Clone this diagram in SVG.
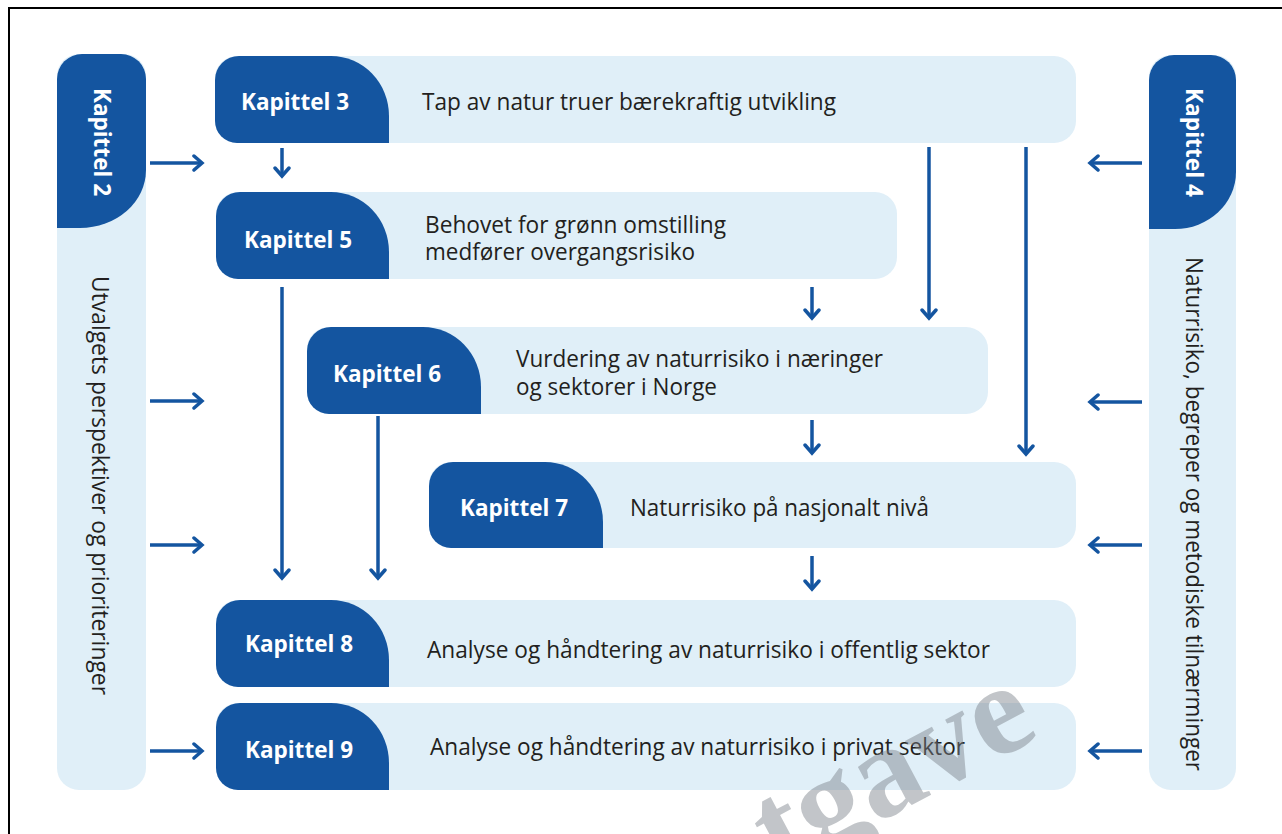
<svg xmlns="http://www.w3.org/2000/svg" width="1282" height="834" viewBox="0 0 1282 834">
<defs>
<style>
.bg{fill:#e0eff8}
.tab{fill:#1455a0}
.tt{font-family:"Open Sans","Noto Sans",sans-serif;font-weight:bold;font-size:24px;fill:#ffffff}
.bt{font-family:"Open Sans","Noto Sans",sans-serif;font-size:23px;fill:#231f20}
.con{fill:none;stroke:#1455a0;stroke-width:3.5}
.wm{font-family:"Liberation Serif",serif;font-weight:bold;font-size:130px;fill:#7a8088;opacity:0.45}
</style>
<marker id="ah" viewBox="-10 -10 20 20" markerUnits="userSpaceOnUse" markerWidth="20" markerHeight="20" refX="0" refY="0" orient="auto">
<path d="M-8,-7 L0,0 L-8,7" fill="none" stroke="#1455a0" stroke-width="3.5" stroke-linecap="round" stroke-linejoin="miter"/>
</marker>
</defs>
<rect x="0" y="0" width="1282" height="834" fill="#ffffff"/>
<rect x="9" y="8" width="1300" height="900" fill="none" stroke="#000" stroke-width="2"/>

<g id="kap2">
<rect class="bg" x="57" y="54" width="89" height="736" rx="22"/>
<path class="tab" d="M57,79 A25,25 0 0 1 82,54 H121 A25,25 0 0 1 146,79 V170 A66,58 0 0 1 80,228 H57 Z"/>
<text class="tt" transform="translate(94,88) rotate(90)" textLength="108" lengthAdjust="spacingAndGlyphs">Kapittel 2</text>
<text class="bt" transform="translate(92,276) rotate(90)" textLength="419" lengthAdjust="spacingAndGlyphs">Utvalgets perspektiver og prioriteringer</text>
</g>

<g id="kap4">
<rect class="bg" x="1149" y="55" width="87" height="735" rx="22"/>
<path class="tab" d="M1149,80 A25,25 0 0 1 1174,55 H1211 A25,25 0 0 1 1236,80 V172 A61,57 0 0 1 1175,229 H1149 Z"/>
<text class="tt" transform="translate(1186,88) rotate(90)" textLength="109" lengthAdjust="spacingAndGlyphs">Kapittel 4</text>
<text class="bt" transform="translate(1186,257) rotate(90)" textLength="514" lengthAdjust="spacingAndGlyphs">Naturrisiko, begreper og metodiske tilnærminger</text>
</g>

<g id="kap3">
<rect class="bg" x="215" y="56" width="861" height="87" rx="22"/>
<path class="tab" d="M215,80 A24,24 0 0 1 239,56 H331 A58,60 0 0 1 389,116 V143 H237 A22,22 0 0 1 215,121 Z"/>
<text class="tt" x="241" y="110" textLength="108" lengthAdjust="spacingAndGlyphs">Kapittel 3</text>
<text class="bt" x="422" y="110" textLength="414" lengthAdjust="spacingAndGlyphs">Tap av natur truer bærekraftig utvikling</text>
</g>

<g id="kap5">
<rect class="bg" x="216" y="192" width="681" height="87" rx="22"/>
<path class="tab" d="M216,216 A24,24 0 0 1 240,192 H331 A58,60 0 0 1 389,252 V279 H238 A22,22 0 0 1 216,257 Z"/>
<text class="tt" x="244" y="248" textLength="108" lengthAdjust="spacingAndGlyphs">Kapittel 5</text>
<text class="bt" x="425" y="233" textLength="301" lengthAdjust="spacingAndGlyphs">Behovet for grønn omstilling</text>
<text class="bt" x="425" y="260" textLength="270" lengthAdjust="spacingAndGlyphs">medfører overgangsrisiko</text>
</g>

<g id="kap6">
<rect class="bg" x="307" y="327" width="681" height="87" rx="22"/>
<path class="tab" d="M307,351 A24,24 0 0 1 331,327 H423 A58,60 0 0 1 481,387 V414 H329 A22,22 0 0 1 307,392 Z"/>
<text class="tt" x="333" y="382" textLength="108" lengthAdjust="spacingAndGlyphs">Kapittel 6</text>
<text class="bt" x="516" y="367" textLength="367" lengthAdjust="spacingAndGlyphs">Vurdering av naturrisiko i næringer</text>
<text class="bt" x="516" y="395" textLength="201" lengthAdjust="spacingAndGlyphs">og sektorer i Norge</text>
</g>

<g id="kap7">
<rect class="bg" x="429" y="462" width="647" height="86" rx="22"/>
<path class="tab" d="M429,486 A24,24 0 0 1 453,462 H545 A58,60 0 0 1 603,522 V548 H451 A22,22 0 0 1 429,526 Z"/>
<text class="tt" x="460" y="516" textLength="108" lengthAdjust="spacingAndGlyphs">Kapittel 7</text>
<text class="bt" x="630" y="516" textLength="299" lengthAdjust="spacingAndGlyphs">Naturrisiko på nasjonalt nivå</text>
</g>

<g id="kap8">
<rect class="bg" x="216" y="600" width="860" height="87" rx="22"/>
<path class="tab" d="M216,624 A24,24 0 0 1 240,600 H331 A58,60 0 0 1 389,660 V687 H238 A22,22 0 0 1 216,665 Z"/>
<text class="tt" x="245" y="652" textLength="108" lengthAdjust="spacingAndGlyphs">Kapittel 8</text>
<text class="bt" x="427" y="658" textLength="563" lengthAdjust="spacingAndGlyphs">Analyse og håndtering av naturrisiko i offentlig sektor</text>
</g>

<g id="kap9">
<rect class="bg" x="216" y="703" width="860" height="87" rx="22"/>
<path class="tab" d="M216,727 A24,24 0 0 1 240,703 H331 A58,60 0 0 1 389,763 V790 H238 A22,22 0 0 1 216,768 Z"/>
<text class="tt" x="245" y="758" textLength="108" lengthAdjust="spacingAndGlyphs">Kapittel 9</text>
<text class="bt" x="430" y="755" textLength="535" lengthAdjust="spacingAndGlyphs">Analyse og håndtering av naturrisiko i privat sektor</text>
</g>

<g id="connectors">
<line class="con" x1="150" y1="163" x2="202" y2="163" marker-end="url(#ah)"/>
<line class="con" x1="150" y1="401" x2="202" y2="401" marker-end="url(#ah)"/>
<line class="con" x1="150" y1="545" x2="202" y2="545" marker-end="url(#ah)"/>
<line class="con" x1="150" y1="751" x2="202" y2="751" marker-end="url(#ah)"/>
<line class="con" x1="1142" y1="163" x2="1090" y2="163" marker-end="url(#ah)"/>
<line class="con" x1="1142" y1="402" x2="1090" y2="402" marker-end="url(#ah)"/>
<line class="con" x1="1142" y1="545" x2="1090" y2="545" marker-end="url(#ah)"/>
<line class="con" x1="1142" y1="751" x2="1090" y2="751" marker-end="url(#ah)"/>
<line class="con" x1="282" y1="148" x2="282" y2="176" marker-end="url(#ah)"/>
<line class="con" x1="929" y1="147" x2="929" y2="318" marker-end="url(#ah)"/>
<line class="con" x1="1026" y1="147" x2="1026" y2="454" marker-end="url(#ah)"/>
<line class="con" x1="812" y1="287" x2="812" y2="318" marker-end="url(#ah)"/>
<line class="con" x1="812" y1="420" x2="812" y2="453" marker-end="url(#ah)"/>
<line class="con" x1="812" y1="556" x2="812" y2="589" marker-end="url(#ah)"/>
<line class="con" x1="282" y1="287" x2="282" y2="578" marker-end="url(#ah)"/>
<line class="con" x1="378" y1="416" x2="378" y2="578" marker-end="url(#ah)"/>
</g>

<text class="wm" transform="translate(780,875) rotate(-28)">tgave</text>
</svg>
